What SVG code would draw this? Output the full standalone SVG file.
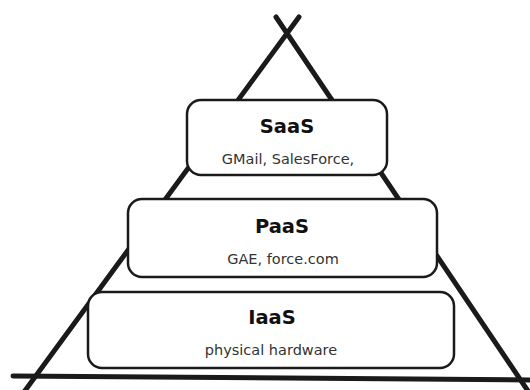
<svg xmlns="http://www.w3.org/2000/svg" width="530" height="390" viewBox="0 0 530 390">
<style>
.frame{stroke:#1a1a1a;stroke-width:5;stroke-linecap:round;fill:none}
.box{fill:#fff;stroke:#1a1a1a;stroke-width:2.5}
.title{font-family:"DejaVu Sans",sans-serif;font-size:19.5px;font-weight:bold;fill:#111;text-anchor:middle}
.sub{font-family:"DejaVu Sans",sans-serif;font-size:14.5px;fill:#333;text-anchor:middle}
</style>
<rect width="530" height="390" fill="#fff"/>
<g id="frame">
<line class="frame" x1="299" y1="17" x2="24" y2="392"/>
<line class="frame" x1="276" y1="17" x2="530" y2="394"/>
<line class="frame" x1="13" y1="376" x2="532" y2="380"/>
</g>
<g id="connectors"></g>
<g id="iaas">
<rect class="box" x="88" y="292" width="366" height="76" rx="14"/>
<text class="title" x="272" y="324">IaaS</text>
<text class="sub" x="271" y="355">physical hardware</text>
</g>
<g id="paas">
<rect class="box" x="128" y="199" width="309" height="78" rx="14"/>
<text class="title" x="282" y="233">PaaS</text>
<text class="sub" x="283" y="264">GAE, force.com</text>
</g>
<g id="saas">
<rect class="box" x="187" y="100" width="200" height="75" rx="14"/>
<text class="title" x="287" y="133">SaaS</text>
<text class="sub" x="288" y="164">GMail, SalesForce,</text>
</g>
</svg>
